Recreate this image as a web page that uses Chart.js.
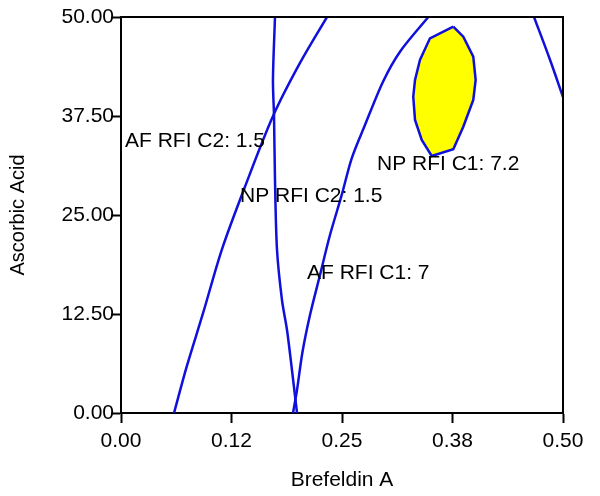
<!DOCTYPE html>
<html>
<head>
<meta charset="utf-8">
<script src="https://cdn.jsdelivr.net/npm/chart.js@4.4.1/dist/chart.umd.min.js"></script>
<style>
html,body{margin:0;padding:0;background:#fff;}
canvas{display:block;}
</style>
</head>
<body>
<canvas id="c" width="600" height="496"></canvas>
<script>
// ---- data ----
const xTickValues = [0, 0.125, 0.25, 0.375, 0.5];
const xTickLabels = ["0.00", "0.12", "0.25", "0.38", "0.50"];
const yTickValues = [0, 12.5, 25, 37.5, 50];
const yTickLabels = ["0.00", "12.50", "25.00", "37.50", "50.00"];

// AF RFI C2: 1.5 contour
const afC2X = [0.060, 0.0743, 0.0928, 0.114, 0.140, 0.172, 0.2025, 0.233];
const afC2Y = [0, 5.85, 12.6, 20.6, 28.5, 37.5, 44.2, 50];
// NP RFI C2: 1.5 contour
const npC2X = [0.1742, 0.1719, 0.1731, 0.1742, 0.1765, 0.1821, 0.1878, 0.1934, 0.1991];
const npC2Y = [50, 42.05, 37.5, 29.42, 20.58, 14.27, 10.48, 5.43, 0];
// AF RFI C1: 7 contour
const afC1X = [0.1946, 0.1991, 0.2053, 0.2138, 0.2251, 0.2364, 0.2497, 0.2610, 0.2760, 0.2964, 0.3156, 0.3476];
const afC1Y = [0, 2.90, 7.70, 12.37, 17.42, 22.47, 27.53, 32.16, 36.36, 41.83, 45.62, 50];
// NP RFI C1: 7.2 contour (top-right corner)
const npC1X = [0.4672, 0.4853, 0.5];
const npC1Y = [50, 44.6, 39.9];
// Sweet spot region (yellow)
const regionX = [0.3759, 0.3872, 0.3985, 0.4012, 0.3985, 0.3872, 0.3759, 0.3515, 0.3402, 0.3326, 0.3306, 0.3326, 0.3382, 0.3495, 0.3759];
const regionY = [48.78, 47.51, 44.99, 42.05, 39.52, 36.15, 33.30, 32.45, 34.47, 37.0, 39.94, 42.05, 44.57, 47.31, 48.78];

// contour labels and their anchor values (left edge x, middle y)
const labelTexts = ["AF RFI C2: 1.5", "NP RFI C2: 1.5", "NP RFI C1: 7.2", "AF RFI C1: 7"];
const labelX = [0.0045, 0.1346, 0.2896, 0.2104];
const labelY = [34.3, 27.4, 31.4, 17.7];

const FONT = '"Liberation Sans", Arial, sans-serif';
const BLUE = '#1010dc';

function pts(xs, ys) { return xs.map((x, i) => ({x: x, y: ys[i]})); }
function curve(xs, ys) {
  return { data: pts(xs, ys), showLine: true, borderColor: BLUE, borderWidth: 2.5,
           pointRadius: 0, tension: 0.3, fill: false };
}

const boxPlugin = {
  id: 'box',
  afterDatasetsDraw(chart) {
    const {ctx, scales} = chart;
    ctx.save();
    ctx.font = '21px ' + FONT;
    ctx.fillStyle = '#000';
    ctx.textAlign = 'left';
    ctx.textBaseline = 'middle';
    labelTexts.forEach((t, i) => {
      ctx.fillText(t, scales.x.getPixelForValue(labelX[i]), scales.y.getPixelForValue(labelY[i]));
    });
    ctx.restore();
  },
  afterDraw(chart) {
    const {ctx, chartArea: a} = chart;
    ctx.save();
    ctx.strokeStyle = '#000';
    ctx.lineWidth = 2;
    ctx.beginPath();
    ctx.moveTo(a.left, a.top);
    ctx.lineTo(a.right, a.top);
    ctx.lineTo(a.right, a.bottom);
    ctx.stroke();
    ctx.restore();
  }
};

new Chart(document.getElementById('c'), {
  type: 'scatter',
  data: {
    datasets: [
      { data: pts(regionX, regionY), showLine: true, borderColor: BLUE, borderWidth: 2.5,
        backgroundColor: '#ffff00', fill: 'shape', pointRadius: 0, tension: 0 },
      curve(afC2X, afC2Y),
      curve(npC2X, npC2Y),
      curve(afC1X, afC1Y),
      curve(npC1X, npC1Y)
    ]
  },
  options: {
    responsive: false,
    animation: false,
    devicePixelRatio: 1,
    layout: { padding: { top: 17, right: 37, left: 0, bottom: 0 } },
    plugins: { legend: { display: false }, tooltip: { enabled: false } },
    scales: {
      x: {
        type: 'linear', min: 0, max: 0.5,
        afterBuildTicks(s) { s.ticks = xTickValues.map(v => ({value: v})); },
        afterFit(s) { s.height = 83; },
        ticks: { autoSkip: false, maxRotation: 0, color: '#000', padding: 6,
                 font: { family: FONT, size: 21 },
                 callback: (v, i) => xTickLabels[i] },
        grid: { drawOnChartArea: false, drawTicks: true, tickLength: 10, tickWidth: 2, tickColor: '#000' },
        border: { color: '#000', width: 2 },
        title: { display: true, text: 'Brefeldin A', color: '#000',
                 font: { family: FONT, size: 21 }, padding: { top: 0, bottom: 3 } }
      },
      y: {
        type: 'linear', min: 0, max: 50,
        afterBuildTicks(s) { s.ticks = yTickValues.map(v => ({value: v})); },
        afterFit(s) { s.width = 121; },
        ticks: { autoSkip: false, color: '#000', padding: -3,
                 font: { family: FONT, size: 21 },
                 callback: (v, i) => yTickLabels[i] },
        grid: { drawOnChartArea: false, drawTicks: true, tickLength: 10, tickWidth: 2, tickColor: '#000' },
        border: { color: '#000', width: 2 },
        title: { display: true, text: 'Ascorbic Acid', color: '#000',
                 font: { family: FONT, size: 20 }, padding: { top: 6, bottom: 0 } }
      }
    }
  },
  plugins: [boxPlugin]
});
</script>
</body>
</html>
